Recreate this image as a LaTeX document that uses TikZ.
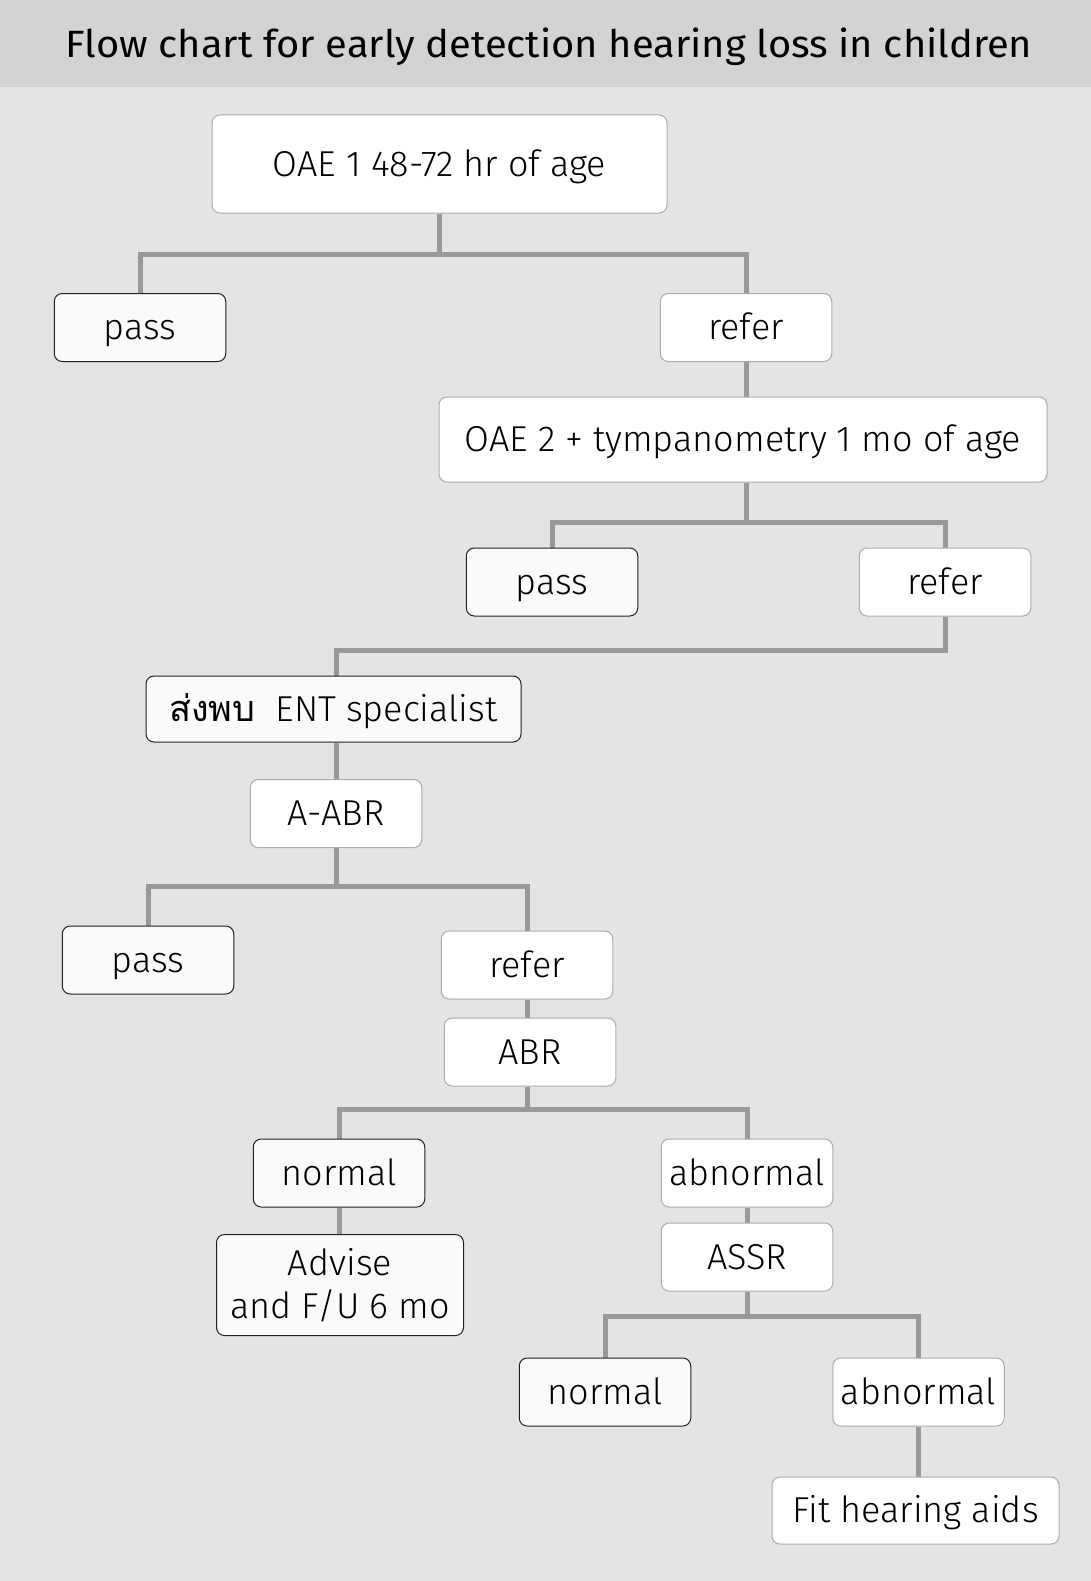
\documentclass[tikz,border=0pt]{standalone}
\usepackage{fontspec}
\setmainfont{Fira Sans}[UprightFont={* Light}]
\newfontfamily\titlefont{Fira Sans}
\newfontfamily\thaifont[Script=Thai]{Loma}
\definecolor{bgcol}{HTML}{E4E4E4}
\definecolor{headcol}{HTML}{D3D3D3}
\definecolor{conncol}{HTML}{999999}
\definecolor{darkedge}{HTML}{222222}
\definecolor{lightedge}{HTML}{ABABAB}
\definecolor{paper}{HTML}{FAFAFA}
\pgfdeclarelayer{background}
\pgfsetlayers{background,main}
\tikzset{
  boxbase/.style={rounded corners=8pt, inner sep=0pt, line width=1pt, align=center,
    font=\fontsize{36}{43}\selectfont, minimum width=171.5pt, minimum height=68pt},
  box/.style={boxbase, text height=24.8pt, text depth=0pt},
  darkbox/.style={box, draw=darkedge, fill=paper},
  lightbox/.style={box, draw=lightedge, fill=white},
  darkmulti/.style={boxbase, draw=darkedge, fill=paper},
  conn/.style={draw=conncol, line width=5pt}
}
\begin{document}
\begin{tikzpicture}[x=1pt,y=-1pt]
\useasboundingbox (0,0) rectangle (1091,1581);
\node[font=\titlefont\fontsize{38}{42}\selectfont] (title) at (549,47) {\scalebox{1.05}[1]{Flow chart for early detection hearing loss in children}};

\node[lightbox, minimum width=455pt, minimum height=98pt] (oae1) at (439.5,164) {OAE 1 48-72 hr of age};
\node[darkbox] (pass1) at (140,327.5) {pass};
\node[lightbox] (refer1) at (746,327.5) {refer};
\node[lightbox, minimum width=608pt, minimum height=85pt] (oae2) at (743,439.5) {OAE 2 + tympanometry 1 mo of age};
\node[darkbox] (pass2) at (552,582) {pass};
\node[lightbox] (refer2) at (945,582) {refer};
\node[darkbox, minimum width=375pt, minimum height=66pt] (ent) at (333.5,709) {{\thaifont ส่งพบ}\ \ ENT specialist};
\node[lightbox] (aabr) at (336,813.5) {A-ABR};
\node[darkbox] (pass3) at (148,960) {pass};
\node[lightbox] (refer3) at (527,965) {refer};
\node[lightbox] (abr) at (530,1052) {ABR};
\node[darkbox] (normal1) at (339,1173) {normal};
\node[lightbox] (abnormal1) at (747,1173) {abnormal};
\node[darkmulti, minimum width=247pt, minimum height=101pt] (advise) at (340,1285) {Advise\\and F/U 6 mo};
\node[lightbox] (assr) at (747,1257) {ASSR};
\node[darkbox] (normal2) at (605,1392) {normal};
\node[lightbox] (abnormal2) at (918.5,1392) {abnormal};
\node[lightbox, minimum width=287pt, minimum height=67pt] (fit) at (915.5,1510.5) {Fit hearing aids};

\begin{pgfonlayer}{background}
\fill[bgcol] (0,0) rectangle (1091,1581);
\fill[headcol] (0,0) rectangle (1091,87);
\draw[conn] (oae1.south) -- ++(0,41) coordinate (j1) -| (pass1.north);
\draw[conn] (j1) -| (refer1.north);
\draw[conn] (refer1.south) -- (oae2.north -| refer1.south);
\draw[conn] (refer1.south |- oae2.south) -- ++(0,40) coordinate (j2) -| (pass2.north);
\draw[conn] (j2) -| (refer2.north);
\draw[conn] (refer2.south) -- ++(0,34) -| (ent.north -| aabr.north);
\draw[conn] (ent.south -| aabr.north) -- (aabr.north);
\draw[conn] (aabr.south) -- ++(0,38) coordinate (j3) -| (pass3.north);
\draw[conn] (j3) -| (refer3.north);
\draw[conn] (refer3.south) -- (refer3.south |- abr.north);
\draw[conn] (refer3.south |- abr.south) -- ++(0,23) coordinate (j4) -| (normal1.north);
\draw[conn] (j4) -| (abnormal1.north);
\draw[conn] (normal1.south) -- (advise.north -| normal1.south);
\draw[conn] (abnormal1.south) -- (assr.north);
\draw[conn] (assr.south) -- ++(0,25) coordinate (j5) -| (normal2.north);
\draw[conn] (j5) -| (abnormal2.north);
\draw[conn] (abnormal2.south) -- (fit.north -| abnormal2.south);
\end{pgfonlayer}
\end{tikzpicture}
\end{document}
